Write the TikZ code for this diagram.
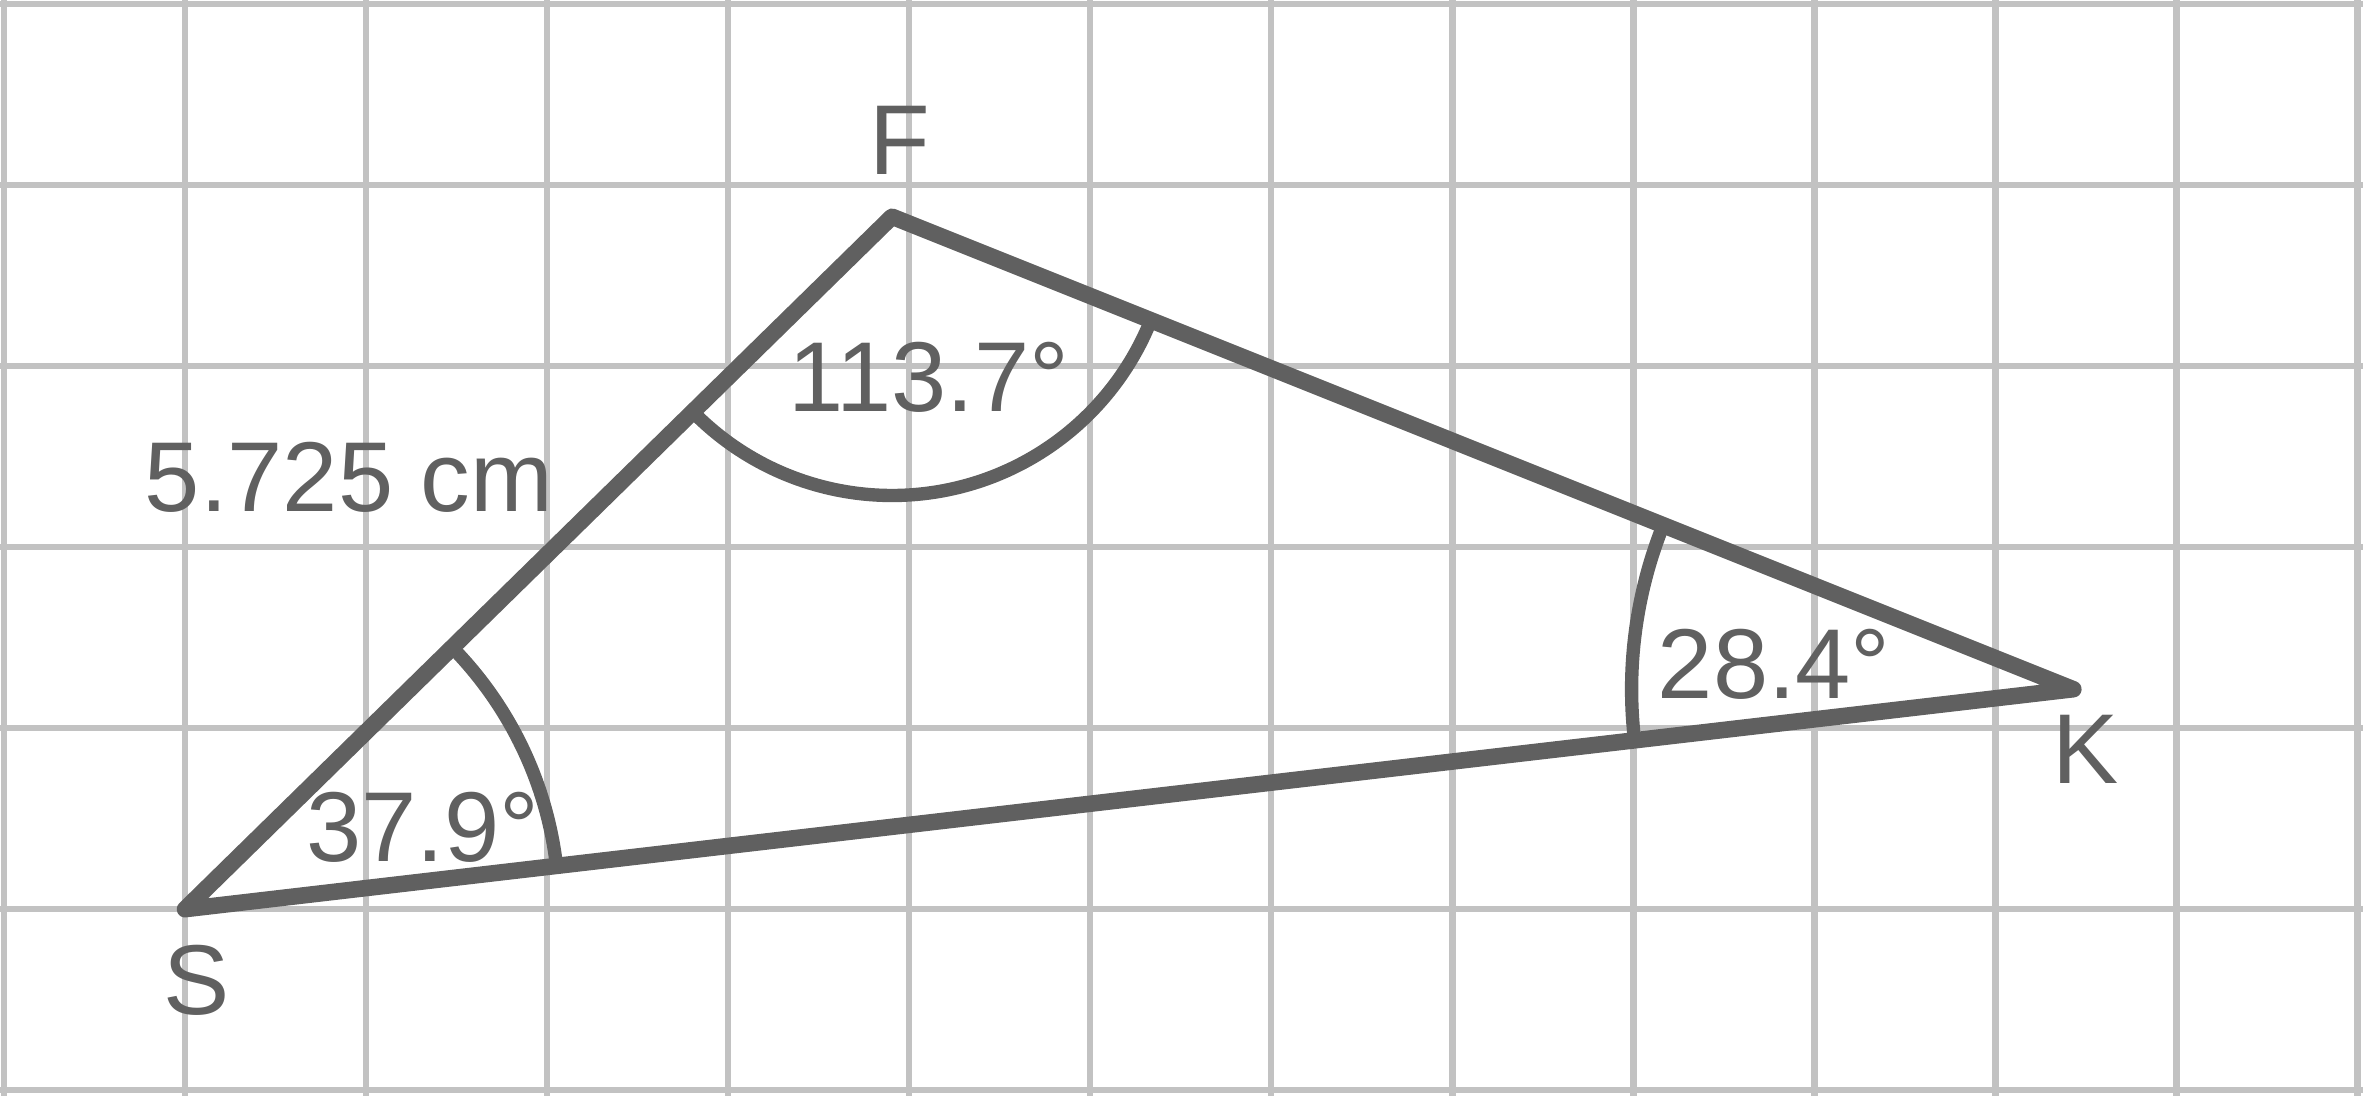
\documentclass[tikz,border=0pt]{standalone}
\usepackage{fontspec}
\setmainfont{Liberation Sans}
\usepackage{xcolor}
\usepackage{tikz}
\usetikzlibrary{angles,calc}

\definecolor{linegray}{HTML}{606060}
\definecolor{gridgray}{HTML}{C2C2C2}

\begin{document}
\begin{tikzpicture}[
    gridline/.style={draw=gridgray, line width=1pt},
    side/.style={draw=linegray, line width=2.6pt, line cap=round, line join=round},
    anglearc/.style={draw=linegray, line width=2.1pt},
    lbl/.style={text=linegray, font=\fontsize{15.6}{18}\selectfont, inner sep=0pt}
]
\useasboundingbox (-0.022,-0.031) rectangle (13.03,6.022);

% Grid
\draw[gridline, step=1] (-0.022,-0.031) grid (13.03,6.022);

% Vertices
\coordinate (S) at (1,1);
\coordinate (F) at (4.905,4.825);
\coordinate (K) at (11.43,2.215);

% Angle arcs
\pic[anglearc, angle radius=2.066cm] {angle=K--S--F};
\pic[anglearc, angle radius=1.54cm] {angle=S--F--K};
\pic[anglearc, angle radius=2.44cm] {angle=F--K--S};

% Triangle
\draw[side] (S) -- (F) -- (K) -- cycle;

% Labels
\node[lbl] (lblF) at (4.95,5.249) {F};
\node[lbl] (lblS) at (1.066,0.608) {S};
\node[lbl] (lblK) at (11.50,1.881) {K};
\node[lbl] (angS) at (2.313,1.453) {37.9°};
\node[lbl] (angF) at (5.11,3.936) {113.7°};
\node[lbl] (angK) at (9.778,2.354) {28.4°};
\node[lbl] (sideSF) at (1.906,3.383) {5.725 cm};

\end{tikzpicture}
\end{document}
